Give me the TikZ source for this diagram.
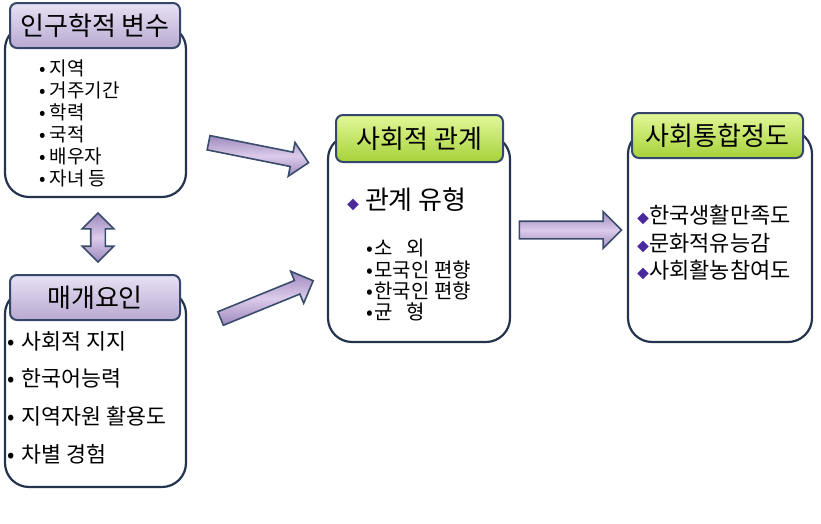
\documentclass[tikz,border=0pt]{standalone}
\usepackage{fontspec}
\setmainfont{Noto Sans CJK KR}
\usetikzlibrary{shapes.arrows,positioning}
\definecolor{boxline}{HTML}{24344F}
\definecolor{headline}{HTML}{34466A}
\definecolor{lilactop}{HTML}{E8E1F3}
\definecolor{lilacbot}{HTML}{B8A9D2}
\definecolor{greentop}{HTML}{E2F898}
\definecolor{greenbot}{HTML}{A6D13A}
\definecolor{arrowfill}{HTML}{DCCBEA}
\definecolor{arrowdark}{HTML}{9C89BE}
\definecolor{arrowline}{HTML}{3A4C6C}
\definecolor{diapurple}{HTML}{4A2A9A}
\newcommand{\dia}{{\fontsize{12}{12}\selectfont\color{diapurple}◆}}
\newcommand{\bul}[1][4pt]{•\kern#1}
\tikzset{
  outerbox/.style={draw=boxline, line width=2.2pt, rounded corners=24pt, fill=white, inner sep=0pt},
  headbox/.style={draw=headline, line width=2pt, rounded corners=7pt, inner sep=0pt, font=\fontsize{26}{26}\selectfont},
  purplehead/.style={headbox, top color=lilactop, bottom color=lilacbot},
  greenhead/.style={headbox, top color=greentop, bottom color=greenbot},
  blockarrow/.style={single arrow, draw=arrowline, line width=1.6pt, top color=arrowdark, bottom color=arrowdark, middle color=arrowfill, single arrow head extend=10pt, single arrow head indent=0pt, inner xsep=0pt, inner ysep=6.5pt},
  linkarrow/.style={double arrow, draw=arrowline, line width=1.6pt, top color=arrowdark, bottom color=arrowdark, middle color=arrowfill, double arrow head extend=8.5pt, double arrow head indent=0pt, inner xsep=0pt, inner ysep=6.5pt},
  listtext/.style={anchor=north west, align=left, inner sep=0pt}
}
\begin{document}
\begin{tikzpicture}[x=1pt,y=1pt]
        \useasboundingbox (0,0) rectangle (821,-523);
        % boxes
        \node[outerbox, minimum width=181pt, minimum height=172pt] (demobox) at (95.5,-111) {};
        \node[purplehead, minimum width=170pt, minimum height=45pt] (demohead) at (95,-25.5) {인구학적 변수};
        \node[outerbox, minimum width=181pt, minimum height=197pt] (mediabox) at (95.5,-388.5) {};
        \node[purplehead, minimum width=170pt, minimum height=45pt] (mediahead) at (95,-297.5) {매개요인};
        \node[outerbox, minimum width=182pt, minimum height=207pt] (relbox) at (419,-238.5) {};
        \node[greenhead, minimum width=167pt, minimum height=47pt] (relhead) at (419.5,-138.5) {사회적 관계};
        \node[outerbox, minimum width=184pt, minimum height=212pt] (intbox) at (720,-236) {};
        \node[greenhead, minimum width=171pt, minimum height=45pt] (inthead) at (717.5,-135.5) {사회통합정도};
        % lists
        \node[listtext, font=\fontsize{19}{22}\selectfont] (demolist) at (39,-60) {\bul 지역\\\bul 거주기간\\\bul 학력\\\bul 국적\\\bul 배우자\\\bul 자녀 등};
        \node[listtext, font=\fontsize{21.7}{37.7}\selectfont] (medialist) at (7,-331) {\bul[7pt] 사회적 지지\\\bul[7pt] 한국어능력\\\bul[7pt] 지역자원 활용도\\\bul[7pt] 차별 경험};
        \node[listtext, font=\fontsize{26}{26}\selectfont] (reltype) at (347,-188) {\dia\ 관계 유형};
        \node[listtext, font=\fontsize{20}{21.3}\selectfont] (rellist) at (366,-239) {\bul[1.5pt] 소\ \ \ 외\\\bul[1.5pt] 모국인 편향\\\bul[1.5pt] 한국인 편향\\\bul[1.5pt] 균\ \ \ 형};
        \node[listtext, font=\fontsize{22}{27.5}\selectfont] (intlist) at (637,-205) {\dia 한국생활만족도\\\dia 문화적유능감\\\dia 사회활농참여도};
        % arrows
        \node[blockarrow, minimum height=102pt, rotate=-11.3] (toparrow) at (255,-152) {};
        \node[blockarrow, minimum height=100pt, rotate=22.2] (lowarrow) at (263.5,-301) {};
        \node[blockarrow, minimum height=102pt, inner ysep=8pt, single arrow head extend=9.5pt] (rightarrow) at (566,-230) {};
        \node[linkarrow, minimum height=49pt, rotate=90] (boxlink) at (98,-237.5) {};
\end{tikzpicture}
\end{document}
